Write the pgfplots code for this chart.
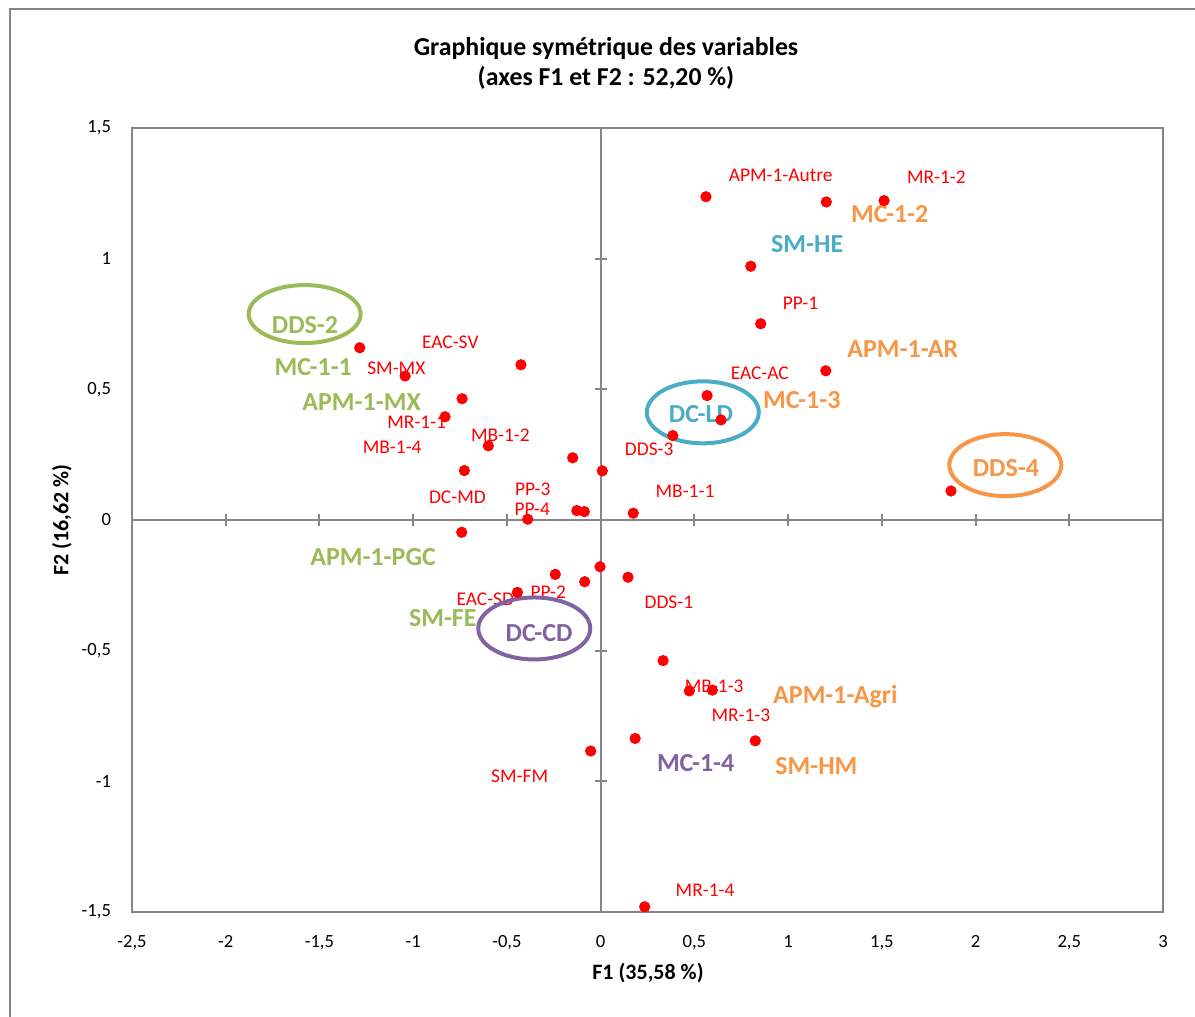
\documentclass[border=0pt]{standalone}
\usepackage{pgfplots}
\pgfplotsset{compat=1.18}
\usepackage{fontspec}
\setmainfont{Carlito}
\definecolor{axgray}{HTML}{868686}
\definecolor{cgreen}{HTML}{9BBB59}
\definecolor{cblue}{HTML}{4BACC6}
\definecolor{corange}{HTML}{F79646}
\definecolor{cpurple}{HTML}{8064A2}
\definecolor{cred}{HTML}{FF0000}
\tikzset{
  redlab/.style={text=cred, font=\fontsize{9.7}{11}\selectfont, anchor=center, text height=6.25pt, text depth=0pt, inner sep=0pt},
  biglab/.style={font=\fontsize{13}{15}\selectfont\bfseries, anchor=center, text height=8.37pt, text depth=0pt, inner sep=0pt},
}
\begin{document}
\begin{tikzpicture}
\useasboundingbox (-66pt,-52.5pt) rectangle (531.5pt,456pt);
\draw[axgray, line width=0.6pt] (-61pt,-52.5pt) -- (-61pt,451.5pt) -- (531.5pt,451.5pt);
\begin{axis}[
  at={(0pt,0pt)}, anchor=south west,
  scale only axis, width=515.5pt, height=392pt,
  xmin=-2.5, xmax=3, ymin=-1.5, ymax=1.5,
  xtick={-2.5,-2,-1.5,-1,-0.5,0,0.5,1,1.5,2,2.5,3},
  ytick={-1.5,-1,-0.5,0,0.5,1,1.5},
  major tick length=0pt,
  axis line style={draw=axgray, line width=1pt},
  tick label style={font=\fontsize{9.3}{11}\selectfont, text=black},
  /pgf/number format/use comma,
  /pgf/number format/assume math mode=true,
  xticklabel style={yshift=-8pt},
  yticklabel style={xshift=-7pt},
  clip=false,
]
% zero axes
\draw[axgray, line width=1pt] (axis cs:-2.5,0) -- (axis cs:3,0);
\draw[axgray, line width=1pt] (axis cs:0,-1.5) -- (axis cs:0,1.5);
\pgfplotsinvokeforeach{-2,-1.5,-1,-0.5,0.5,1,1.5,2,2.5}{
  \draw[axgray, line width=1pt] ([yshift=-3pt]axis cs:#1,0) -- ([yshift=3pt]axis cs:#1,0);
}
\pgfplotsinvokeforeach{-1,-0.5,0.5,1}{
  \draw[axgray, line width=1pt] ([xshift=-3pt]axis cs:0,#1) -- ([xshift=3pt]axis cs:0,#1);
}
\addplot[only marks, mark=*, mark size=2.6pt, color=cred, mark options={draw=cred, fill=cred}] coordinates {
(0.562,1.237) (1.204,1.217) (1.512,1.222) (0.801,0.971) (0.854,0.751)
(1.201,0.571) (0.568,0.476) (0.642,0.383) (0.385,0.323) (1.869,0.111)
(0.009,0.188) (0.174,0.026) (-1.285,0.659) (-1.043,0.551) (-0.425,0.594)
(-0.739,0.464) (-0.830,0.395) (-0.599,0.284) (-0.149,0.238) (-0.727,0.189)
(-0.127,0.036) (-0.087,0.032) (-0.389,0.003) (-0.741,-0.047) (-0.003,-0.179)
(-0.242,-0.208) (-0.085,-0.236) (0.146,-0.219) (-0.444,-0.277) (0.333,-0.538)
(0.473,-0.654) (0.596,-0.651) (0.184,-0.836) (0.825,-0.845) (-0.053,-0.884)
(0.235,-1.480)
};
% red labels
\node[redlab] at (axis cs:0.960,1.320) {APM-1-Autre};
\node[redlab] at (axis cs:1.791,1.310) {MR-1-2};
\node[redlab] at (axis cs:1.066,0.830) {PP-1};
\node[redlab] at (axis cs:0.849,0.563) {EAC-AC};
\node[redlab] at (axis cs:0.259,0.269) {DDS-3};
\node[redlab] at (axis cs:0.450,0.111) {MB-1-1};
\node[redlab] at (axis cs:-0.802,0.682) {EAC-SV};
\node[redlab] at (axis cs:-1.090,0.581) {SM-MX};
\node[redlab] at (axis cs:-0.981,0.373) {MR-1-1};
\node[redlab] at (axis cs:-0.535,0.325) {MB-1-2};
\node[redlab] at (axis cs:-1.112,0.279) {MB-1-4};
\node[redlab] at (axis cs:-0.764,0.088) {DC-MD};
\node[redlab] at (axis cs:-0.362,0.119) {PP-3};
\node[redlab] at (axis cs:-0.365,0.041) {PP-4};
\node[redlab] at (axis cs:-0.615,-0.305) {EAC-SD};
\node[redlab] at (axis cs:-0.279,-0.276) {PP-2};
\node[redlab] at (axis cs:0.364,-0.316) {DDS-1};
\node[redlab] at (axis cs:0.606,-0.635) {MB-1-3};
\node[redlab] at (axis cs:0.748,-0.749) {MR-1-3};
\node[redlab] at (axis cs:-0.432,-0.979) {SM-FM};
\node[redlab] at (axis cs:0.557,-1.416) {MR-1-4};
% coloured labels
\node[biglab, text=cgreen] at (axis cs:-1.577,0.746) {DDS-2};
\node[biglab, text=cgreen] at (axis cs:-1.533,0.585) {MC-1-1};
\node[biglab, text=cgreen] at (axis cs:-1.275,0.450) {APM-1-MX};
\node[biglab, text=cgreen] at (axis cs:-1.214,-0.144) {APM-1-PGC};
\node[biglab, text=cgreen] at (axis cs:-0.842,-0.376) {SM-FE};
\node[biglab, text=cblue] at (axis cs:1.102,1.056) {SM-HE};
\node[biglab, text=cblue] at (axis cs:0.535,0.405) {DC-LD};
\node[biglab, text=corange] at (axis cs:1.542,1.170) {MC-1-2};
\node[biglab, text=corange] at (axis cs:1.612,0.653) {APM-1-AR};
\node[biglab, text=corange] at (axis cs:1.073,0.459) {MC-1-3};
\node[biglab, text=corange] at (axis cs:2.162,0.198) {DDS-4};
\node[biglab, text=corange] at (axis cs:1.252,-0.670) {APM-1-Agri};
\node[biglab, text=corange] at (axis cs:1.151,-0.942) {SM-HM};
\node[biglab, text=cpurple] at (axis cs:-0.328,-0.434) {DC-CD};
\node[biglab, text=cpurple] at (axis cs:0.507,-0.929) {MC-1-4};
% ellipses
\draw[cgreen, line width=2pt] (axis cs:-1.579,0.788) ellipse [x radius=28pt, y radius=14.5pt];
\draw[cblue, line width=2pt] (axis cs:0.545,0.412) ellipse [x radius=28pt, y radius=15.5pt];
\draw[corange, line width=2pt] (axis cs:2.159,0.210) ellipse [x radius=28pt, y radius=15.5pt];
\draw[cpurple, line width=2pt] (axis cs:-0.354,-0.415) ellipse [x radius=28pt, y radius=15.5pt];
\end{axis}
% titles and axis labels
\node[anchor=base, font=\fontsize{12.9}{15}\selectfont\bfseries] at (237pt,428.4pt) {Graphique symétrique des variables};
\node[anchor=base, font=\fontsize{12.9}{15}\selectfont\bfseries] at (237pt,413.3pt) {(axes F1 et F2 : 52,20 \%)};
\node[anchor=center, font=\fontsize{11}{13}\selectfont\bfseries] at (258pt,-30.5pt) {F1 (35,58 \%)};
\node[anchor=center, rotate=90, font=\fontsize{11}{13}\selectfont\bfseries] at (-35pt,196pt) {F2 (16,62 \%)};
\end{tikzpicture}
\end{document}
